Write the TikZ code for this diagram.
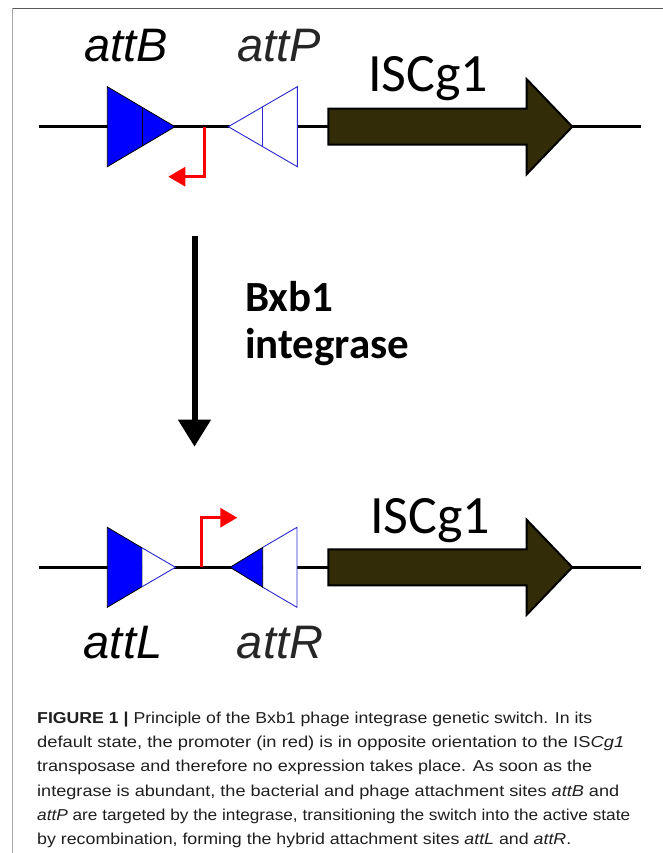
\documentclass[tikz,border=0pt]{standalone}
\usepackage{fontspec}
\usepackage{graphicx}
\setmainfont{Liberation Sans}
\newfontfamily\calibri{Carlito}
\usetikzlibrary{arrows.meta}
\definecolor{genefill}{RGB}{50,45,8}
\definecolor{siteline}{RGB}{40,40,205}
\definecolor{labelgray}{RGB}{38,38,38}
\begin{document}
\begin{tikzpicture}[x=1pt,y=-1pt,
  dna/.style={line width=3pt, black},
  fullsite/.style={fill=blue, draw=black, line width=0.8pt},
  emptysite/.style={fill=white, draw=siteline, line width=0.9pt},
  promo/.style={red, line width=3pt, -{Triangle[length=17pt,width=19pt]}},
  gene/.style={fill=genefill, draw=black, line width=2pt},
  switcharrow/.style={line width=6pt, black, -{Triangle[length=27pt,width=31.5pt]}},
  sitelabel/.style={font=\fontsize{47}{50}\selectfont\itshape, anchor=base, inner sep=0},
  genelabel/.style={font=\calibri\fontsize{54}{60}\selectfont, anchor=base, inner sep=0},
  enzlabel/.style={font=\calibri\bfseries\fontsize{43}{47}\selectfont, anchor=base west, inner sep=0},
  capline/.style={anchor=base west, inner sep=0, font=\fontsize{15.8}{18}\selectfont, text=black!88}
]
\useasboundingbox (0,0) rectangle (663,853);
\fill[white] (0,0) rectangle (663,853);

% frame
\coordinate (frTL) at (12.7,8.3);
\coordinate (frTR) at (663,8.3);
\coordinate (frBL) at (12.7,853);
\draw[black!65, line width=1.5pt] (frTL) -- (frTR);
\draw[black!35, line width=1.5pt] (frTL) -- (frBL);

% ---------------- top construct ----------------
\def\ya{126.7}
\coordinate (dnaL1) at (39,\ya);
\coordinate (dnaR1) at (641,\ya);
\draw[dna] (dnaL1) -- (dnaR1);

% attB
\draw[fullsite] (107.3,\ya-40) -- (175,\ya) -- (107.3,\ya+40) -- cycle;
\draw[black, line width=0.8pt] (142.3,\ya-19.3) -- (142.3,\ya+19.3);
% attP
\draw[emptysite] (297.3,\ya-40) -- (228.3,\ya) -- (297.3,\ya+40) -- cycle;
\draw[siteline, line width=0.9pt] (262.7,\ya-19.9) -- (262.7,\ya+19.9);

% promoter (reverse)
\coordinate (pA) at (204.3,\ya);
\coordinate (pAtip) at (168.3,176.7);
\draw[promo] (pA) |- (pAtip);

% ISCg1 gene
\draw[gene] (328.3,\ya-18) -- (526.7,\ya-18) -- (526.7,\ya-47.5) -- (572.3,\ya)
  -- (526.7,\ya+47.5) -- (526.7,\ya+18) -- (328.3,\ya+18) -- cycle;

\node[sitelabel] (attB) at (126,61.7) {attB};
\node[sitelabel, text=labelgray] (attP) at (279,61.7) {attP};
\node[genelabel] (gene1) at (428,91.7) {ISCg1};

% ---------------- switch arrow ----------------
\coordinate (swTop) at (194.5,236);
\coordinate (swBot) at (194.5,446.7);
\draw[switcharrow] (swTop) -- (swBot);
\node[enzlabel] (bxb) at (245,311.7) {Bxb1};
\node[enzlabel] (integ) at (245,358.3) {integrase};

% ---------------- bottom construct ----------------
\def\yb{567.3}
\coordinate (dnaL2) at (39,\yb);
\coordinate (dnaR2) at (641,\yb);
\draw[dna] (dnaL2) -- (dnaR2);

% attL
\draw[fullsite] (107.3,\yb-40) -- (142.3,\yb-19.3) -- (142.3,\yb+19.3) -- (107.3,\yb+40) -- cycle;
\draw[emptysite] (142.3,\yb-19.3) -- (175.5,\yb) -- (142.3,\yb+19.3);
% attR
\draw[emptysite] (262.7,\yb-19.9) -- (297,\yb-40) -- (297,\yb+40) -- (262.7,\yb+19.9);
\draw[fullsite] (230,\yb) -- (262.7,\yb-19.9) -- (262.7,\yb+19.9) -- cycle;

% promoter (forward)
\coordinate (pB) at (201,\yb);
\coordinate (pBtip) at (237.3,517.7);
\draw[promo] (pB) |- (pBtip);

% ISCg1 gene
\draw[gene] (328.3,\yb-18) -- (526.7,\yb-18) -- (526.7,\yb-47.5) -- (572.3,\yb)
  -- (526.7,\yb+47.5) -- (526.7,\yb+18) -- (328.3,\yb+18) -- cycle;

\node[sitelabel] (attL) at (123,658) {attL};
\node[sitelabel, text=labelgray] (attR) at (280,658) {attR};
\node[genelabel] (gene2) at (430,533.3) {ISCg1};

% ---------------- caption ----------------
\node[capline] (cap1) at (37,723.3) {\resizebox{555pt}{\height}{\textbf{FIGURE 1 |} Principle of the Bxb1 phage integrase genetic switch. In its}};
\node[capline] (cap2) at (37,747.5) {\resizebox{587pt}{\height}{default state, the promoter (in red) is in opposite orientation to the IS\textit{Cg1}}};
\node[capline] (cap3) at (37,771.7) {\resizebox{555pt}{\height}{transposase and therefore no expression takes place. As soon as the}};
\node[capline] (cap4) at (37,796) {\resizebox{582pt}{\height}{integrase is abundant, the bacterial and phage attachment sites \textit{attB} and}};
\node[capline] (cap5) at (37,820) {\resizebox{593pt}{\height}{\textit{attP} are targeted by the integrase, transitioning the switch into the active state}};
\node[capline] (cap6) at (37,844) {\resizebox{534pt}{\height}{by recombination, forming the hybrid attachment sites \textit{attL} and \textit{attR}.}};
\end{tikzpicture}
\end{document}
